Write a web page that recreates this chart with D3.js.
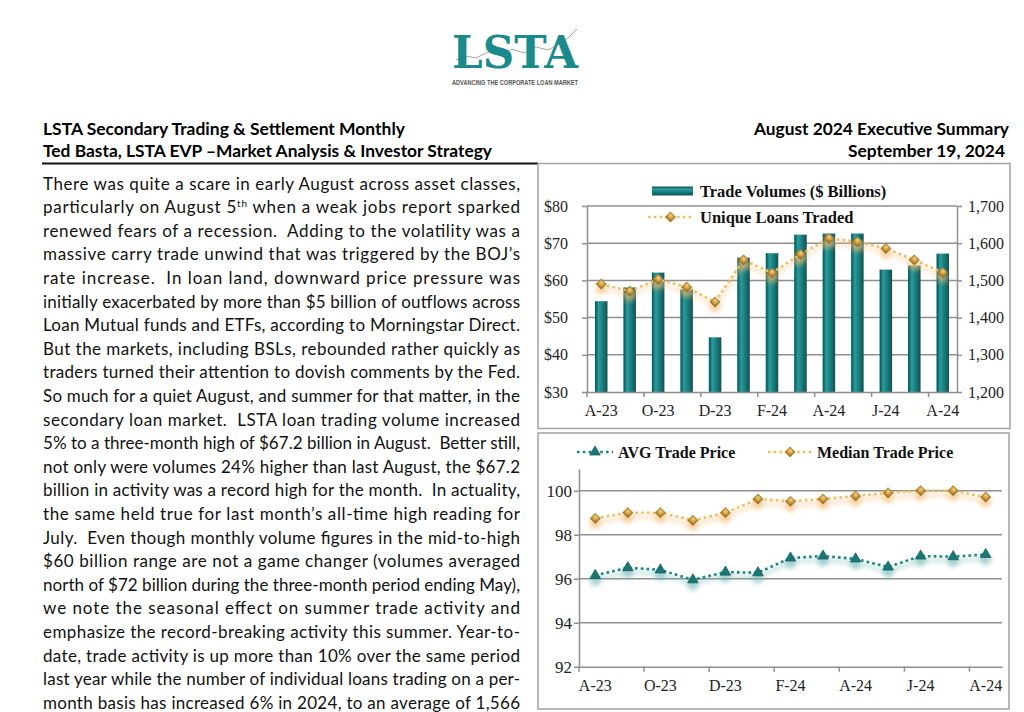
<!DOCTYPE html>
<html><head><meta charset="utf-8">
<script src="https://cdn.jsdelivr.net/npm/d3@7"></script>
<style>
html,body{margin:0;padding:0;background:#fff;}
svg{display:block;}
</style></head>
<body>
<svg id="page" width="1024" height="712"></svg>
<script>
// ---------- DATA ----------
const months = ["2023-08","2023-09","2023-10","2023-11","2023-12","2024-01","2024-02","2024-03","2024-04","2024-05","2024-06","2024-07","2024-08"];
const monthLabels = ["A-23","S-23","O-23","N-23","D-23","J-24","F-24","M-24","A-24","M-24","J-24","J-24","A-24"];
const tradeVolumes = [54.4, 58.1, 62.1, 57.6, 44.7, 66.1, 67.3, 72.3, 72.6, 72.6, 62.9, 64.0, 67.2];
const uniqueLoans = [1490, 1471, 1503, 1482, 1442, 1555, 1520, 1570, 1613, 1604, 1586, 1555, 1521];
const avgTradePrice = [96.15, 96.5, 96.4, 95.95, 96.3, 96.27, 96.94, 97.03, 96.9, 96.53, 97.03, 97.0, 97.1];
const medianTradePrice = [98.74, 99.0, 99.0, 98.65, 99.0, 99.62, 99.52, 99.62, 99.76, 99.9, 100.0, 100.0, 99.71];
const volumeTicks = [30, 40, 50, 60, 70, 80];
const loanTicks = [1200, 1300, 1400, 1500, 1600, 1700];
const priceTicks = [92, 94, 96, 98, 100];
const seriesNames = ["Trade Volumes ($ Billions)", "Unique Loans Traded", "AVG Trade Price", "Median Trade Price"];
const logoText = "LSTA";
const logoTagline = "ADVANCING THE CORPORATE LOAN MARKET";
const headerLeft = ["LSTA Secondary Trading & Settlement Monthly", "Ted Basta, LSTA EVP \u2013Market Analysis & Investor Strategy"];
const headerRight = ["August 2024 Executive Summary", "September 19, 2024"];
const bodyLines = [
  "There was quite a scare in early August across asset classes,",
  "particularly on August 5^th^ when a weak jobs report sparked",
  "renewed fears of a recession.  Adding to the volatility was a",
  "massive carry trade unwind that was triggered by the BOJ\u2019s",
  "rate increase.  In loan land, downward price pressure was",
  "initially exacerbated by more than $5 billion of outflows across",
  "Loan Mutual funds and ETFs, according to Morningstar Direct.",
  "But the markets, including BSLs, rebounded rather quickly as",
  "traders turned their attention to dovish comments by the Fed.",
  "So much for a quiet August, and summer for that matter, in the",
  "secondary loan market.  LSTA loan trading volume increased",
  "5% to a three-month high of $67.2 billion in August.  Better still,",
  "not only were volumes 24% higher than last August, the $67.2",
  "billion in activity was a record high for the month.  In actuality,",
  "the same held true for last month\u2019s all-time high reading for",
  "July.  Even though monthly volume figures in the mid-to-high",
  "$60 billion range are not a game changer (volumes averaged",
  "north of $72 billion during the three-month period ending May),",
  "we note the seasonal effect on summer trade activity and",
  "emphasize the record-breaking activity this summer. Year-to-",
  "date, trade activity is up more than 10% over the same period",
  "last year while the number of individual loans trading on a per-",
  "month basis has increased 6% in 2024, to an average of 1,566"
];

// ---------- SETUP ----------
const svg = d3.select("#page");
const serif = "'Liberation Serif', 'Times New Roman', serif";
const sans = "Lato, 'Open Sans', sans-serif";
const gridColor = "#8f8f8f";
const frameColor = "#a3a3a3";
const dotOrange = "#f2bd62";
const dotTeal = "#1b8380";

const defs = svg.append("defs");
const bg = defs.append("linearGradient").attr("id","barGrad").attr("x1","0").attr("x2","1").attr("y1","0").attr("y2","0");
[[0,"#0a4f50"],[0.3,"#2b9b9a"],[0.55,"#1a8483"],[1,"#0b5455"]].forEach(s=>bg.append("stop").attr("offset",s[0]).attr("stop-color",s[1]));
const bgv = defs.append("linearGradient").attr("id","barGradV").attr("x1","0").attr("x2","0").attr("y1","0").attr("y2","1");
[[0,"#0a4f50"],[0.3,"#2b9b9a"],[0.55,"#1a8483"],[1,"#0b5455"]].forEach(s=>bgv.append("stop").attr("offset",s[0]).attr("stop-color",s[1]));
const dg = defs.append("radialGradient").attr("id","goldGrad").attr("cx","0.4").attr("cy","0.35").attr("r","0.7");
[[0,"#f3d27e"],[0.6,"#c8963a"],[1,"#9a6e22"]].forEach(s=>dg.append("stop").attr("offset",s[0]).attr("stop-color",s[1]));
defs.append("filter").attr("id","glow").attr("x","-100%").attr("y","-100%").attr("width","300%").attr("height","300%")
  .append("feGaussianBlur").attr("stdDeviation",2.6);
defs.append("filter").attr("id","lineGlow").attr("x","-10%").attr("y","-50%").attr("width","120%").attr("height","200%")
  .append("feGaussianBlur").attr("stdDeviation",2);

// ---------- LOGO ----------
const logo = svg.append("g");
logo.append("path")
  .attr("d", d3.line()([[456,60],[466,56],[476,58],[488,52],[500,55],[512,49],[524,53],[536,47],[548,50],[560,44],[568,38],[577,29]]))
  .attr("fill","none").attr("stroke","#a5a5a5").attr("stroke-width",1);
logo.append("text").attr("x",452).attr("y",68).attr("font-family","'DejaVu Serif', serif").attr("font-weight",700)
  .attr("font-size",45).attr("fill","#1b8a8a").attr("textLength",126).attr("lengthAdjust","spacingAndGlyphs").text(logoText);
logo.append("text").attr("x",452).attr("y",84.5).attr("font-family","'Liberation Sans', Arial, sans-serif").attr("font-weight",700)
  .attr("font-size",6.6).attr("fill","#555").attr("textLength",126).attr("lengthAdjust","spacingAndGlyphs").text(logoTagline);

// ---------- HEADER ----------
const hdrY = [134.5, 156.5];
const hdrLeftW = [362, 449];
headerLeft.forEach((t,i)=>{
  svg.append("text").attr("x",43).attr("y",hdrY[i]).attr("font-family",sans).attr("font-weight",700)
    .attr("font-size",17).attr("fill","#000").attr("textLength",hdrLeftW[i]).attr("lengthAdjust","spacingAndGlyphs").text(t);
});
const hdrRightX = [1009, 1005];
const hdrRightW = [255, 157];
headerRight.forEach((t,i)=>{
  svg.append("text").attr("x",hdrRightX[i]-hdrRightW[i]).attr("y",hdrY[i]).attr("font-family",sans).attr("font-weight",700)
    .attr("font-size",17).attr("fill","#000").attr("textLength",hdrRightW[i]).attr("lengthAdjust","spacingAndGlyphs").text(t);
});
svg.append("line").attr("x1",42).attr("x2",538).attr("y1",163.5).attr("y2",163.5).attr("stroke","#111").attr("stroke-width",1.8);

// ---------- BODY TEXT ----------
bodyLines.forEach((line,i)=>{
  const t = svg.append("text").attr("x",43).attr("y",189.5+i*23.6)
    .attr("font-family",sans).attr("font-size",17).attr("fill","#111")
    .attr("textLength",477).attr("lengthAdjust","spacing").attr("xml:space","preserve");
  const parts = line.split("^");
  parts.forEach((p,j)=>{
    const ts = t.append("tspan").text(p);
    if (j%2===1) ts.attr("font-size",10).attr("dy",-6);
    else if (j>0) ts.attr("dy",6);
  });
});

// ---------- FRAMES ----------
svg.append("rect").attr("x",538).attr("y",163.5).attr("width",472).attr("height",265)
  .attr("fill","none").attr("stroke",frameColor).attr("stroke-width",1.5);
svg.append("rect").attr("x",538).attr("y",433).attr("width",471).attr("height",276)
  .attr("fill","none").attr("stroke",frameColor).attr("stroke-width",1.5);

function styleAxis(g, fs){
  g.select(".domain").attr("stroke",gridColor).attr("stroke-width",1.5);
  g.selectAll(".tick line").attr("stroke",gridColor).attr("stroke-width",1.5);
  g.selectAll(".tick text").attr("font-family",serif).attr("font-size",fs).attr("fill","#222");
}
function diamond(sel, size){ return sel.attr("d", d3.symbol().type(d3.symbolSquare).size(size)()); }

// ---------- CHART 1 ----------
const c1 = {left:587, right:957, top:206, bottom:392};
const x1 = d3.scaleBand().domain(months).range([c1.left,c1.right]).paddingInner(0.56).paddingOuter(0.28);
const yL = d3.scaleLinear().domain([30,80]).range([c1.bottom,c1.top]);
const yR = d3.scaleLinear().domain([1200,1700]).range([c1.bottom,c1.top]);
const g1 = svg.append("g");

g1.append("g").selectAll("line").data(volumeTicks.slice(1)).join("line")
  .attr("x1",c1.left).attr("x2",c1.right).attr("y1",d=>yL(d)).attr("y2",d=>yL(d))
  .attr("stroke",gridColor).attr("stroke-width",1.5);

g1.append("g").selectAll("rect").data(tradeVolumes).join("rect")
  .attr("x",(d,i)=>x1(months[i])).attr("width",x1.bandwidth())
  .attr("y",d=>yL(d)).attr("height",d=>c1.bottom-yL(d)).attr("fill","url(#barGrad)");

const axL = g1.append("g").attr("transform",`translate(${c1.left},0)`)
  .call(d3.axisLeft(yL).tickValues(volumeTicks).tickSize(5).tickSizeOuter(0).tickPadding(14).tickFormat(d=>"$"+d));
styleAxis(axL,16);
const axR = g1.append("g").attr("transform",`translate(${c1.right},0)`)
  .call(d3.axisRight(yR).tickValues(loanTicks).tickSize(5).tickSizeOuter(0).tickPadding(6).tickFormat(d3.format(",")));
styleAxis(axR,16);
const axB = g1.append("g").attr("transform",`translate(0,${c1.bottom})`)
  .call(d3.axisBottom(x1).tickValues(months.filter((d,i)=>i%2===0)).tickSize(0).tickSizeOuter(0).tickPadding(12.6)
    .tickFormat(d=>monthLabels[months.indexOf(d)]));
styleAxis(axB,16);
const gap1 = (x1.step()-x1.bandwidth())/2;
g1.append("g").selectAll("line").data(months.filter((d,i)=>i%2===0)).join("line")
  .attr("x1",d=>x1(d)-gap1).attr("x2",d=>x1(d)-gap1).attr("y1",c1.bottom).attr("y2",c1.bottom+5)
  .attr("stroke",gridColor).attr("stroke-width",1.5);

// unique loans line
const cx1 = i => x1(months[i]) + x1.bandwidth()/2;
g1.append("path").attr("d", d3.line().x((d,i)=>cx1(i)).y(d=>yR(d)+4)(uniqueLoans))
  .attr("fill","none").attr("stroke","#f6c78a").attr("stroke-width",5).attr("opacity",0.35).attr("filter","url(#lineGlow)");
g1.append("path").attr("d", d3.line().x((d,i)=>cx1(i)).y(d=>yR(d))(uniqueLoans))
  .attr("fill","none").attr("stroke",dotOrange).attr("stroke-width",2.6).attr("stroke-dasharray","2.6,3.2");
g1.append("g").selectAll("circle").data(uniqueLoans).join("circle")
  .attr("cx",(d,i)=>cx1(i)).attr("cy",d=>yR(d)+5).attr("r",5.5)
  .attr("fill","#f4b86a").attr("opacity",0.6).attr("filter","url(#glow)");
g1.append("g").selectAll("path").data(uniqueLoans).join("path")
  .call(s=>diamond(s,52))
  .attr("transform",(d,i)=>`translate(${cx1(i)},${yR(d)}) rotate(45)`)
  .attr("fill","url(#goldGrad)").attr("stroke","#9c7226").attr("stroke-width",0.7);

// legend 1
g1.append("rect").attr("x",652).attr("y",186.5).attr("width",41).attr("height",9).attr("fill","url(#barGradV)");
g1.append("text").attr("x",700).attr("y",196.5).attr("font-family",serif).attr("font-weight",700).attr("font-size",16.5).attr("fill","#111").text(seriesNames[0]);
g1.append("line").attr("x1",648).attr("x2",693).attr("y1",217).attr("y2",217).attr("stroke",dotOrange).attr("stroke-width",2.6).attr("stroke-dasharray","2.6,3.2");
g1.append("path").call(s=>diamond(s,52)).attr("transform","translate(670.5,217) rotate(45)")
  .attr("fill","url(#goldGrad)").attr("stroke","#9c7226").attr("stroke-width",0.7);
g1.append("text").attr("x",700).attr("y",222.5).attr("font-family",serif).attr("font-weight",700).attr("font-size",16.5).attr("fill","#111").text(seriesNames[1]);

// ---------- CHART 2 ----------
const c2 = {left:579, right:1002, top:468.7, bottom:666.7};
const x2 = d3.scaleBand().domain(months).range([c2.left,c2.right]).paddingInner(0.5).paddingOuter(0.25);
const y2 = d3.scaleLinear().domain([92,101]).range([c2.bottom,c2.top]);
const g2 = svg.append("g");
g2.append("g").selectAll("line").data(priceTicks.slice(1)).join("line")
  .attr("x1",c2.left).attr("x2",c2.right).attr("y1",d=>y2(d)).attr("y2",d=>y2(d))
  .attr("stroke",gridColor).attr("stroke-width",1.5);
const ax2L = g2.append("g").attr("transform",`translate(${c2.left},0)`)
  .call(d3.axisLeft(y2).tickValues(priceTicks).tickSize(5).tickSizeOuter(0).tickPadding(2));
styleAxis(ax2L,17);
const ax2B = g2.append("g").attr("transform",`translate(0,${c2.bottom})`)
  .call(d3.axisBottom(x2).tickValues(months.filter((d,i)=>i%2===0)).tickSize(0).tickSizeOuter(0).tickPadding(12.9)
    .tickFormat(d=>monthLabels[months.indexOf(d)]));
styleAxis(ax2B,16);
const gap2 = (x2.step()-x2.bandwidth())/2;
g2.append("g").selectAll("line").data(months.filter((d,i)=>i%2===0)).join("line")
  .attr("x1",d=>x2(d)-gap2).attr("x2",d=>x2(d)-gap2).attr("y1",c2.bottom).attr("y2",c2.bottom+5)
  .attr("stroke",gridColor).attr("stroke-width",1.5);

const cx2 = i => x2(months[i]) + x2.bandwidth()/2;
function drawSeries(data, lineColor, glowColor, markerType){
  g2.append("path").attr("d", d3.line().x((d,i)=>cx2(i)).y(d=>y2(d)+4)(data))
    .attr("fill","none").attr("stroke",glowColor).attr("stroke-width",5).attr("opacity",0.3).attr("filter","url(#lineGlow)");
  g2.append("path").attr("d", d3.line().x((d,i)=>cx2(i)).y(d=>y2(d))(data))
    .attr("fill","none").attr("stroke",lineColor).attr("stroke-width",2.6).attr("stroke-dasharray","2.6,3.2");
  g2.append("g").selectAll("circle").data(data).join("circle")
    .attr("cx",(d,i)=>cx2(i)).attr("cy",d=>y2(d)+5).attr("r",5.5)
    .attr("fill",glowColor).attr("opacity",0.6).attr("filter","url(#glow)");
  const m = g2.append("g").selectAll("path").data(data).join("path");
  if (markerType==="triangle"){
    m.attr("d", d3.symbol().type(d3.symbolTriangle).size(48)())
     .attr("transform",(d,i)=>`translate(${cx2(i)},${y2(d)})`)
     .attr("fill","#1a7774").attr("stroke","#0e5654").attr("stroke-width",0.7);
  } else {
    m.call(s=>diamond(s,52)).attr("transform",(d,i)=>`translate(${cx2(i)},${y2(d)}) rotate(45)`)
     .attr("fill","url(#goldGrad)").attr("stroke","#9c7226").attr("stroke-width",0.7);
  }
}
drawSeries(medianTradePrice, dotOrange, "#f4b86a", "diamond");
drawSeries(avgTradePrice, dotTeal, "#6fb9b6", "triangle");

// legend 2
g2.append("line").attr("x1",577).attr("x2",613).attr("y1",452).attr("y2",452).attr("stroke",dotTeal).attr("stroke-width",2.6).attr("stroke-dasharray","2.6,3.2");
g2.append("path").attr("d", d3.symbol().type(d3.symbolTriangle).size(48)()).attr("transform","translate(595,452)")
  .attr("fill","#1a7774").attr("stroke","#0e5654").attr("stroke-width",0.7);
g2.append("text").attr("x",618).attr("y",457.5).attr("font-family",serif).attr("font-weight",700).attr("font-size",16).attr("fill","#111").text(seriesNames[2]);
g2.append("line").attr("x1",768).attr("x2",812).attr("y1",452).attr("y2",452).attr("stroke",dotOrange).attr("stroke-width",2.6).attr("stroke-dasharray","2.6,3.2");
g2.append("path").call(s=>diamond(s,52)).attr("transform","translate(790,452) rotate(45)")
  .attr("fill","url(#goldGrad)").attr("stroke","#9c7226").attr("stroke-width",0.7);
g2.append("text").attr("x",817).attr("y",457.5).attr("font-family",serif).attr("font-weight",700).attr("font-size",16).attr("fill","#111").text(seriesNames[3]);
</script>
</body></html>
